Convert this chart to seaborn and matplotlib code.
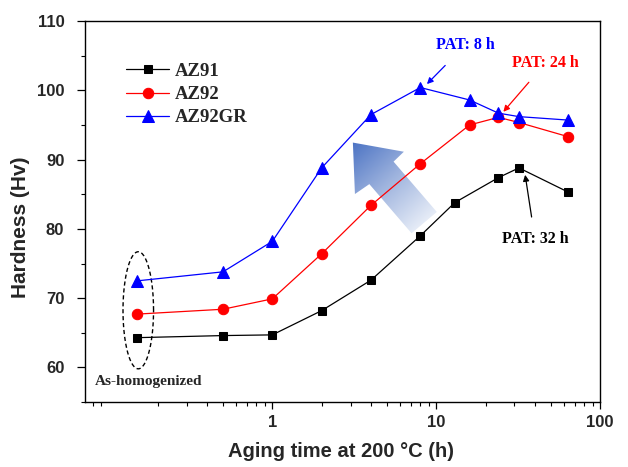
import numpy as np
import pandas as pd
import matplotlib
matplotlib.use('Agg')
import matplotlib.pyplot as plt
import seaborn as sns
from matplotlib.patches import Polygon
from matplotlib.colors import LinearSegmentedColormap

# aging time (h); the as-homogenized state is placed at 0.15 h
time_az91 = [0.15, 0.5, 1, 2, 4, 8, 13, 24, 32, 64]
hv_az91 = [64.3, 64.6, 64.7, 68.2, 72.6, 79.0, 83.8, 87.4, 88.8, 85.3]

time_az92 = [0.15, 0.5, 1, 2, 4, 8, 16, 24, 32, 64]
hv_az92 = [67.7, 68.4, 69.9, 76.4, 83.4, 89.4, 95.0, 96.1, 95.35, 93.3]

time_az92gr = [0.15, 0.5, 1, 2, 4, 8, 16, 24, 32, 64]
hv_az92gr = [72.5, 73.8, 78.2, 88.8, 96.5, 100.4, 98.6, 96.7, 96.2, 95.7]

x_ticks = [1, 10, 100]
x_ticklabels = ['1', '10', '100']
y_ticks = [60, 70, 80, 90, 100, 110]

sns.set_style('ticks')
serif = ['Liberation Serif', 'DejaVu Serif']
sans = ['Liberation Sans', 'DejaVu Sans']

fig = plt.figure(figsize=(6.28, 4.67), dpi=100)
ax = fig.add_axes([0.1355, 0.139, 0.820, 0.816])

series = [
    ('AZ91', time_az91, hv_az91, 's', 'black', 6),
    ('AZ92', time_az92, hv_az92, 'o', 'red', 7.5),
    ('AZ92GR', time_az92gr, hv_az92gr, '^', 'blue', 8.5),
]
for name, t, hv, mk, col, ms in series:
    df = pd.DataFrame({'time': t, 'hv': hv})
    sns.lineplot(data=df, x='time', y='hv', ax=ax, color=col, marker=mk,
                 markersize=ms, markeredgecolor=col, linewidth=0.9,
                 label=name, zorder=3)

ax.set_xscale('log')

# big gradient arrow (axes fraction coordinates)
arrow = [(0.520, 0.681), (0.619, 0.657), (0.599, 0.631), (0.683, 0.499),
         (0.634, 0.443), (0.552, 0.572), (0.524, 0.546)]
poly = Polygon(arrow, closed=True, transform=ax.transAxes,
               facecolor='none', edgecolor='none')
ax.add_patch(poly)
x0, x1, y0, y1 = 0.50, 0.70, 0.42, 0.70
gx, gy = np.meshgrid(np.linspace(x0, x1, 300), np.linspace(y0, y1, 300))
px = gx * 515
py = -gy * 381
tx, ty = 0.520 * 515, -0.681 * 381
ex, ey = 0.6585 * 515, -0.471 * 381
dx, dy = ex - tx, ey - ty
tt = ((px - tx) * dx + (py - ty) * dy) / (dx * dx + dy * dy)
cmap = LinearSegmentedColormap.from_list('arr', ['#4d74c4', '#9fb4de', '#e6ecf7'])
im = ax.imshow(np.clip(tt, 0, 1), cmap=cmap, vmin=0, vmax=1, origin='lower',
               extent=(x0, x1, y0, y1), transform=ax.transAxes, aspect='auto',
               zorder=1, interpolation='bilinear')
im.set_clip_path(poly)

# dashed ellipse around as-homogenized points
th = np.linspace(0, 2 * np.pi, 200)
ax.plot(10 ** (np.log10(0.152) + 0.0933 * np.cos(th)), 68.25 + 8.45 * np.sin(th),
        color='black', lw=1.0, ls=(0, (3, 2)), zorder=2)

ax.text(0.082, 58.0, 'As-homogenized', ha='left', va='center',
        fontsize=11, fontweight='bold', family=serif)

ax.annotate('PAT: 8 h', xy=(8.78, 100.9), xytext=(15.0, 106.5),
            ha='center', va='center', color='blue', fontsize=11.5,
            fontweight='bold', family=serif,
            arrowprops=dict(arrowstyle='-|>', color='blue', lw=0.9,
                            mutation_scale=9, shrinkA=9, shrinkB=0))
ax.annotate('PAT: 24 h', xy=(25.7, 96.9), xytext=(46.7, 104.0),
            ha='center', va='center', color='red', fontsize=11.5,
            fontweight='bold', family=serif,
            arrowprops=dict(arrowstyle='-|>', color='red', lw=0.9,
                            mutation_scale=9, shrinkA=8, shrinkB=0))
ax.annotate('PAT: 32 h', xy=(34.9, 87.8), xytext=(40.1, 78.5),
            ha='center', va='center', color='black', fontsize=11.5,
            fontweight='bold', family=serif,
            arrowprops=dict(arrowstyle='-|>', color='black', lw=0.9,
                            mutation_scale=9, shrinkA=8, shrinkB=0))

ax.set_xlim(0.072, 100)
ax.set_ylim(55, 110)
ax.set_xticks(x_ticks)
ax.set_xticklabels(x_ticklabels)
ax.set_yticks(y_ticks)
ax.set_yticks(np.arange(55, 111, 5), minor=True)
for lab in ax.get_xticklabels() + ax.get_yticklabels():
    lab.set_fontweight('bold')
    lab.set_family(sans)
    lab.set_fontsize(12)

ax.tick_params(which='major', direction='out', length=5, width=0.9, color='black')
ax.tick_params(which='minor', direction='out', length=3, width=0.8, color='black')
ax.tick_params(axis='x', which='major', pad=4)
ax.tick_params(axis='y', which='major', length=6, pad=9)
for sp in ax.spines.values():
    sp.set_visible(True)
    sp.set_linewidth(1.0)
    sp.set_color('black')

ax.set_xlabel('Aging time at 200 \u00b0C (h)', fontsize=14.5, fontweight='bold', family=sans)
ax.set_ylabel('Hardness (Hv)', fontsize=15, fontweight='bold', family=sans)
ax.xaxis.set_label_coords(0.497, -0.105)
ax.yaxis.set_label_coords(-0.107, 0.46)

ax.legend(loc='upper left', bbox_to_anchor=(0.08, 0.89), frameon=False,
          prop=dict(family=serif, weight='bold', size=13.5), handlelength=2.3,
          handletextpad=0.3, labelspacing=0.32, borderpad=0, borderaxespad=0)

fig.savefig('out.png', dpi=100)
